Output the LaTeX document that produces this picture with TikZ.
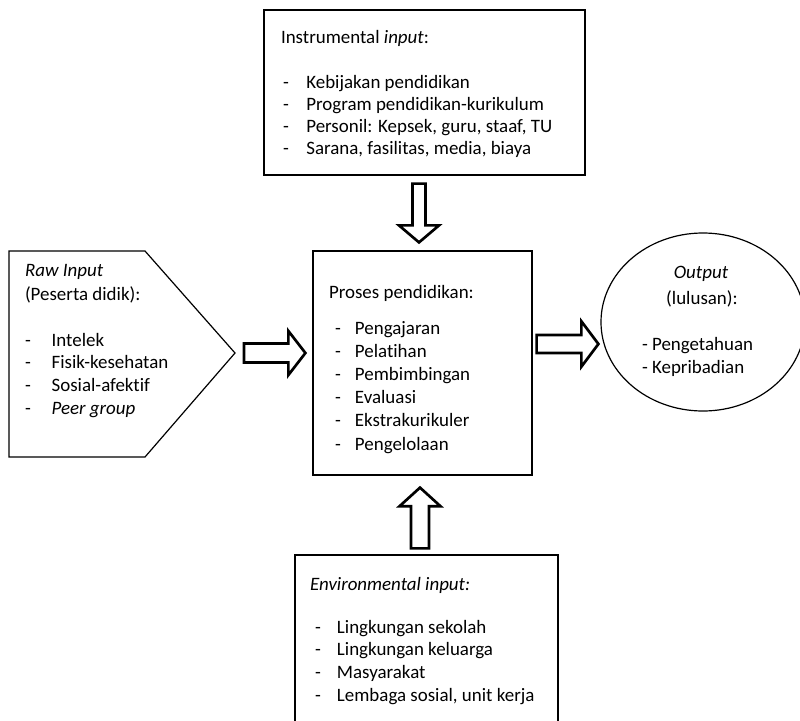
\documentclass[tikz,border=0pt]{standalone}
\usepackage{fontspec}
\setmainfont{Carlito}[Ligatures={NoCommon}]
\usetikzlibrary{calc,shapes.geometric}
\tikzset{
  boxline/.style={draw, line width=0.9pt},
  arrowline/.style={draw, line width=2pt, line join=miter},
  txt/.style={inner sep=0pt, outer sep=0pt, anchor=base west},
  ctxt/.style={inner sep=0pt, outer sep=0pt, anchor=base},
}
\newcommand{\dashitem}[2]{\makebox[#1][l]{-}#2}
% #1 from, #2 to, #3 start gap, #4 end gap, #5 shaft half width, #6 head half width, #7 head length
\newcommand{\blockarrow}[7]{%
  \draw[arrowline] let \p1=(#1), \p2=(#2), \n1={atan2(\y2-\y1,\x2-\x1)} in
    ($(\p1)+(\n1:#3)+(\n1+90:#5)$) --
    ($(\p2)+(\n1+180:#4+#7)+(\n1+90:#5)$) --
    ($(\p2)+(\n1+180:#4+#7)+(\n1+90:#6)$) --
    ($(\p2)+(\n1+180:#4)$) --
    ($(\p2)+(\n1+180:#4+#7)+(\n1-90:#6)$) --
    ($(\p2)+(\n1+180:#4+#7)+(\n1-90:#5)$) --
    ($(\p1)+(\n1:#3)+(\n1-90:#5)$) -- cycle;}
\begin{document}
\begin{tikzpicture}[x=0.75pt,y=-0.75pt]
\useasboundingbox (0,0) rectangle (800,721);
\clip (0,0) rectangle (800,721);

% boxes
\node[boxline, minimum width=240.75pt, minimum height=123.75pt, inner sep=0pt] (instr) at (424.5,92.5) {};
\node[boxline, minimum width=164.25pt, minimum height=168pt, inner sep=0pt] (proc) at (422.5,363) {};
\node[boxline, minimum width=197.25pt, minimum height=138.75pt, inner sep=0pt] (env) at (426.5,647.5) {};
\node[boxline, ellipse, minimum width=153pt, minimum height=133.5pt, inner sep=0pt] (out) at (703,322) {};
\coordinate (rawtip) at (235,353);
\draw[boxline, line join=miter] (9,251) -- (145,251) -- (rawtip) -- (145,457) -- (9,457) -- cycle;

% texts
\node[txt, font=\fontsize{14.2}{16.5}\selectfont] (instrtitle) at (281,43) {Instrumental \textit{input}:};
\node[txt, font=\fontsize{14.2}{16.5}\selectfont] (instrlist) at (283,88) {\begin{tabular}[t]{@{}l@{}}
\dashitem{17.5pt}{Kebijakan pendidikan}\\
\dashitem{17.5pt}{Program pendidikan-kurikulum}\\
\dashitem{17.5pt}{Personil: Kepsek, guru, staaf, TU}\\
\dashitem{17.5pt}{Sarana, fasilitas, media, biaya}
\end{tabular}};

\node[txt, font=\fontsize{14.2}{17}\selectfont] (rawtitle) at (25,276) {\textit{Raw Input}};
\node[txt, font=\fontsize{14.2}{17}\selectfont] (rawsub) at (25,300) {(Peserta didik):};
\node[txt, font=\fontsize{14.2}{17}\selectfont] (rawlist) at (25,346) {\begin{tabular}[t]{@{}l@{}}
\dashitem{20pt}{Intelek}\\
\dashitem{20pt}{Fisik-kesehatan}\\
\dashitem{20pt}{Sosial-afektif}\\
\dashitem{20pt}{\textit{Peer group}}
\end{tabular}};

\node[txt, font=\fontsize{14.2}{17.4}\selectfont] (proctitle) at (329,298) {Proses pendidikan:};
\node[txt, font=\fontsize{14.2}{17.4}\selectfont] (proclist) at (335,334) {\begin{tabular}[t]{@{}l@{}}
\dashitem{15pt}{Pengajaran}\\
\dashitem{15pt}{Pelatihan}\\
\dashitem{15pt}{Pembimbingan}\\
\dashitem{15pt}{Evaluasi}\\
\dashitem{15pt}{Ekstrakurikuler}\\
\dashitem{15pt}{Pengelolaan}
\end{tabular}};

\node[ctxt, font=\fontsize{14.2}{17.25}\selectfont] (outtitle) at (701,278) {\textit{Output}};
\node[ctxt, font=\fontsize{14.2}{17.25}\selectfont] (outsub) at (702,304) {(lulusan):};
\node[txt, font=\fontsize{14.2}{17.25}\selectfont] (outlist) at (642,350) {\begin{tabular}[t]{@{}l@{}}
- Pengetahuan\\
- Kepribadian
\end{tabular}};

\node[txt, font=\fontsize{14.2}{17}\selectfont] (envtitle) at (310,590) {\textit{Environmental input:}};
\node[txt, font=\fontsize{14.2}{17}\selectfont] (envlist) at (315,633) {\begin{tabular}[t]{@{}l@{}}
\dashitem{16.5pt}{Lingkungan sekolah}\\
\dashitem{16.5pt}{Lingkungan keluarga}\\
\dashitem{16.5pt}{Masyarakat}\\
\dashitem{16.5pt}{Lembaga sosial, unit kerja}
\end{tabular}};

% block arrows
\coordinate (axdown) at (419,0);
\coordinate (axup) at (420,0);
\coordinate (ayright) at (0,344);
\blockarrow{instr.south -| axdown}{proc.north -| axdown}{6pt}{6pt}{4.9pt}{15pt}{12.75pt}
\blockarrow{env.north -| axup}{proc.south -| axup}{4.5pt}{9pt}{6.75pt}{15.4pt}{14pt}
\blockarrow{rawtip}{proc.west |- rawtip}{6.75pt}{5.25pt}{7.1pt}{16.5pt}{12.75pt}
\blockarrow{proc.east |- ayright}{out.west |- ayright}{3pt}{1.5pt}{6.75pt}{17pt}{12.75pt}
\end{tikzpicture}
\end{document}
